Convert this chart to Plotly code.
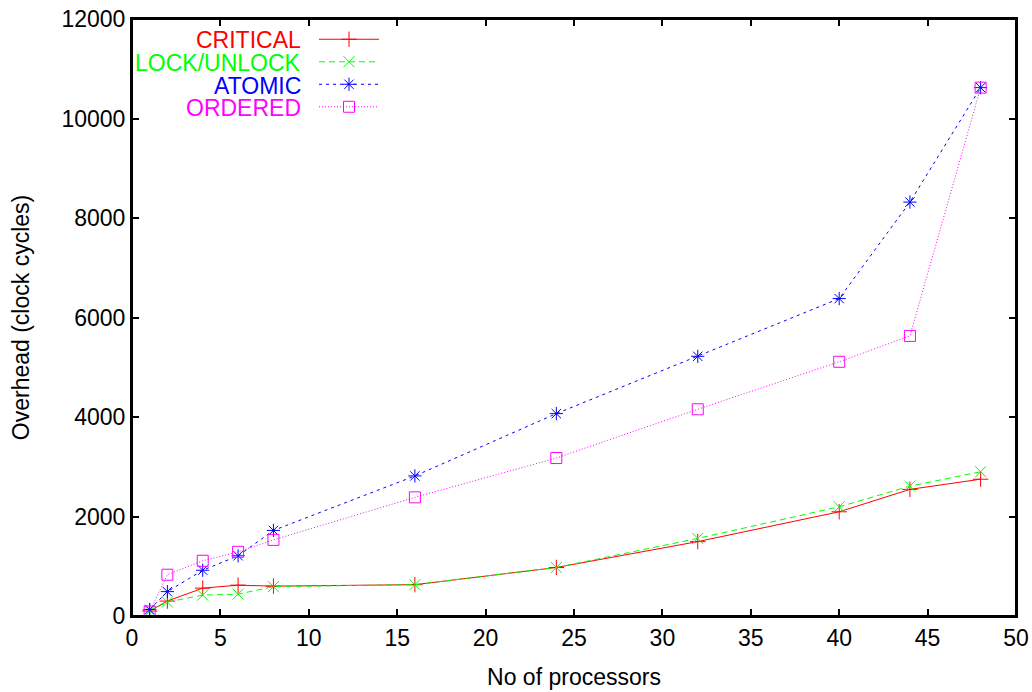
import plotly.graph_objects as go

procs = [1, 2, 4, 6, 8, 16, 24, 32, 40, 44, 48]
critical = [100, 300, 560, 620, 600, 630, 975, 1495, 2095, 2545, 2750]
lock_unlock = [100, 280, 420, 440, 590, 630, 975, 1560, 2195, 2610, 2900]
atomic = [130, 490, 920, 1210, 1720, 2815, 4068, 5220, 6380, 8320, 10620]
ordered = [90, 830, 1110, 1290, 1530, 2385, 3175, 4155, 5110, 5630, 10620]

names = ["CRITICAL", "LOCK/UNLOCK", "ATOMIC", "ORDERED"]
colors = ["#ff0000", "#00ff00", "#0000ff", "#ff00ff"]
dashes = ["solid", "6px,4px", "3px,4px", "1px,2px"]
symbols = ["cross-thin", "x-thin", "asterisk", "square-open"]
series = [critical, lock_unlock, atomic, ordered]

x_ticks = [0, 5, 10, 15, 20, 25, 30, 35, 40, 45, 50]
y_ticks = [0, 2000, 4000, 6000, 8000, 10000, 12000]
y_tick_text = [str(v) for v in y_ticks]

W, H = 1032, 692
ml, mr, mt, mb = 132, 16, 19, 76

fig = go.Figure()
for nm, c, d, s, ys in zip(names, colors, dashes, symbols, series):
    fig.add_trace(go.Scatter(
        x=procs, y=ys, mode="lines+markers", name="",
        line=dict(color=c, width=1, dash=d),
        marker=dict(symbol=s, size=11, color=c, line=dict(color=c, width=1)),
    ))

FONT = "Liberation Sans, Arial, Helvetica, sans-serif"
FS = 23
pw = W - ml - mr
ph = H - mt - mb

# legend labels (gnuplot-style, right-aligned text to the left of the sample)
label_y_px = [39, 62, 85, 108]
annos = []
for nm, c, yp in zip(names, colors, label_y_px):
    annos.append(dict(
        text=nm, xref="paper", yref="paper",
        x=(302 - ml) / pw, y=1 - (yp - mt) / ph,
        xanchor="right", yanchor="middle", showarrow=False,
        height=21, valign="middle", borderpad=0,
        font=dict(family=FONT, size=FS, color=c),
    ))

fig.update_layout(
    width=W, height=H,
    margin=dict(l=ml, r=mr, t=mt, b=mb, autoexpand=False),
    paper_bgcolor="white", plot_bgcolor="white",
    font=dict(family=FONT, size=FS, color="black"),
    showlegend=True,
    legend=dict(
        x=(314 - ml) / pw, y=1 - (23 - mt) / ph, xanchor="left", yanchor="top",
        bgcolor="rgba(0,0,0,0)", font=dict(size=15), tracegroupgap=0,
        itemwidth=60,
    ),
    annotations=annos,
    shapes=[dict(type="rect", xref="paper", yref="paper", x0=0, x1=1, y0=0, y1=1,
                 line=dict(color="black", width=2), layer="above")],
    xaxis=dict(
        range=[0, 50], tickvals=x_ticks, ticks="inside", ticklen=7,
        tickcolor="black", tickwidth=1.5, showline=True, linecolor="black", linewidth=2,
        mirror="ticks", showgrid=False, zeroline=False,
        title=dict(text="No of processors", standoff=19,
                   font=dict(family=FONT, size=FS)),
        tickfont=dict(family=FONT, size=FS),
    ),
    yaxis=dict(
        range=[0, 12000], tickvals=y_ticks, ticktext=y_tick_text, ticks="inside", ticklen=7,
        tickcolor="black", tickwidth=1.5, showline=True, linecolor="black", linewidth=2,
        mirror="ticks", showgrid=False, zeroline=False,
        title=dict(text="Overhead (clock cycles)", standoff=25,
                   font=dict(family=FONT, size=FS)),
        tickfont=dict(family=FONT, size=FS),
    ),
)

fig.write_html("out.html", config={"displayModeBar": False})
with open("out.html", "r", encoding="utf-8") as f:
    html = f.read()
html = html.replace("<body>", '<body style="margin:0;padding:0;">', 1)
html = html.replace("<head>", '<head><style>html,body{margin:0;padding:0;}</style>', 1)
with open("out.html", "w", encoding="utf-8") as f:
    f.write(html)
